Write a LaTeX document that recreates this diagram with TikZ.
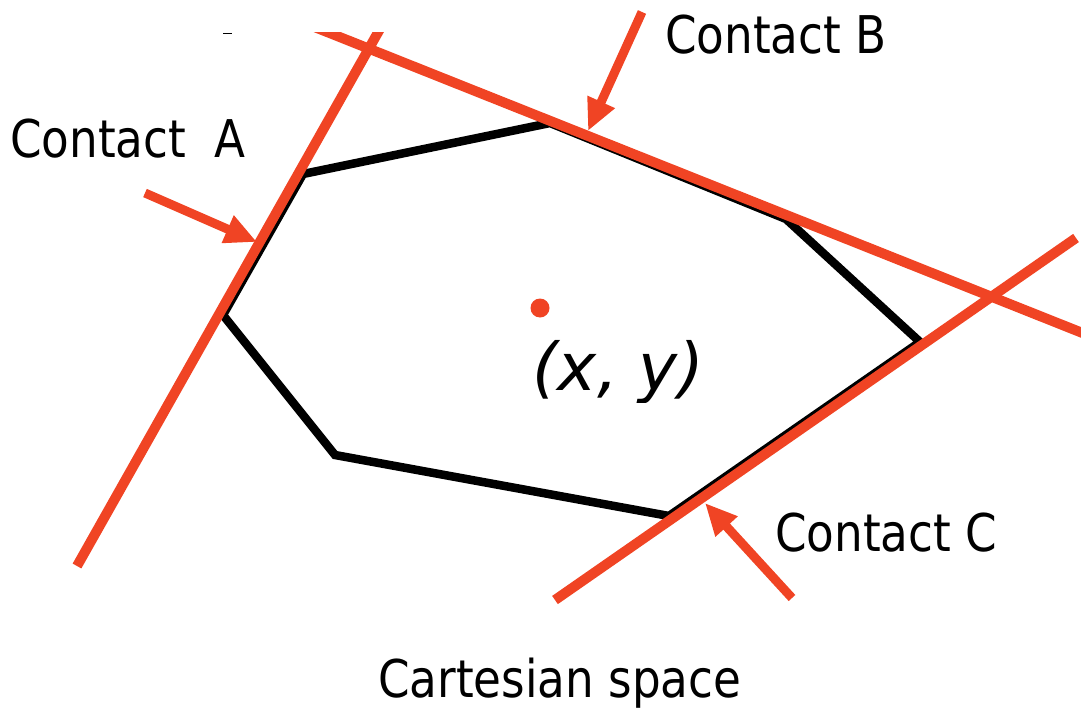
\documentclass[tikz,border=0pt]{standalone}
\usepackage{fontspec}
\setmainfont{DejaVu Sans}[FakeStretch=0.87]
\newfontfamily\xyfont{DejaVu Sans}
\usetikzlibrary{arrows.meta}
\definecolor{cred}{RGB}{240,68,36}
\begin{document}
\begin{tikzpicture}[x=1pt,y=-1pt,
  redline/.style={draw=cred,line width=10pt},
  blackline/.style={draw=black,line width=8.5pt,line join=miter},
  pointer/.style={draw=cred,line width=9pt,-{Triangle[length=32pt,width=28pt]}},
  txt/.style={anchor=base west,inner sep=0pt,font=\fontsize{52}{60}\selectfont},
]
\useasboundingbox (0,0) rectangle (1081,709);
% polygon vertices
\coordinate (P1) at (303,174);
\coordinate (P2) at (550,123);
\coordinate (P3) at (786,219);
\coordinate (P4) at (920,342);
\coordinate (P5) at (669,516);
\coordinate (P6) at (335,455);
\coordinate (P7) at (223,315);
\draw[blackline] (P1) -- (P2) -- (P3) -- (P4) -- (P5) -- (P6) -- (P7) -- cycle;
% contact lines
\coordinate (Atop) at (385,20);
\coordinate (Abot) at (77,566);
\coordinate (Bl) at (307,24);
\coordinate (Br) at (1085,334);
\coordinate (Cl) at (555,600);
\coordinate (Cr) at (1076,238);
\begin{scope}
\clip (0,33) rectangle (1081,709);
\draw[redline] (Abot) -- (Atop);
\draw[redline] (Bl) -- (Br);
\end{scope}
\draw[redline] (Cl) -- (Cr);
% pointers
\coordinate (aAt) at (145,193);
\coordinate (aAh) at (257,242);
\coordinate (aBt) at (642,12);
\coordinate (aBh) at (588,131);
\coordinate (aCt) at (792,598);
\coordinate (aCh) at (705,503);
\draw[pointer] (aAt) -- (aAh);
\draw[pointer] (aBt) -- (aBh);
\draw[pointer] (aCt) -- (aCh);
% center point
\node[circle,fill=cred,inner sep=0pt,minimum size=19pt] (pt) at (540,308) {};
\begin{scope}
\clip (0,0) rectangle (1081,402);
\node[anchor=base west,inner sep=0pt,font=\fontsize{66}{70}\xyfont\itshape] (xy) at (532,390) {(x, y)};
\end{scope}
% labels
\node[txt] (ca) at (10,157) {Contact\ \ A};
\node[txt] (cb) at (665,54) {Contact B};
\node[txt] (cc) at (775,551) {Contact C};
\node[txt] (cs) at (378,697) {Cartesian space};
% small mark
\coordinate (d1) at (223,34);
\coordinate (d2) at (232,34);
\draw[line width=1pt] (d1) -- (d2);
\end{tikzpicture}
\end{document}
